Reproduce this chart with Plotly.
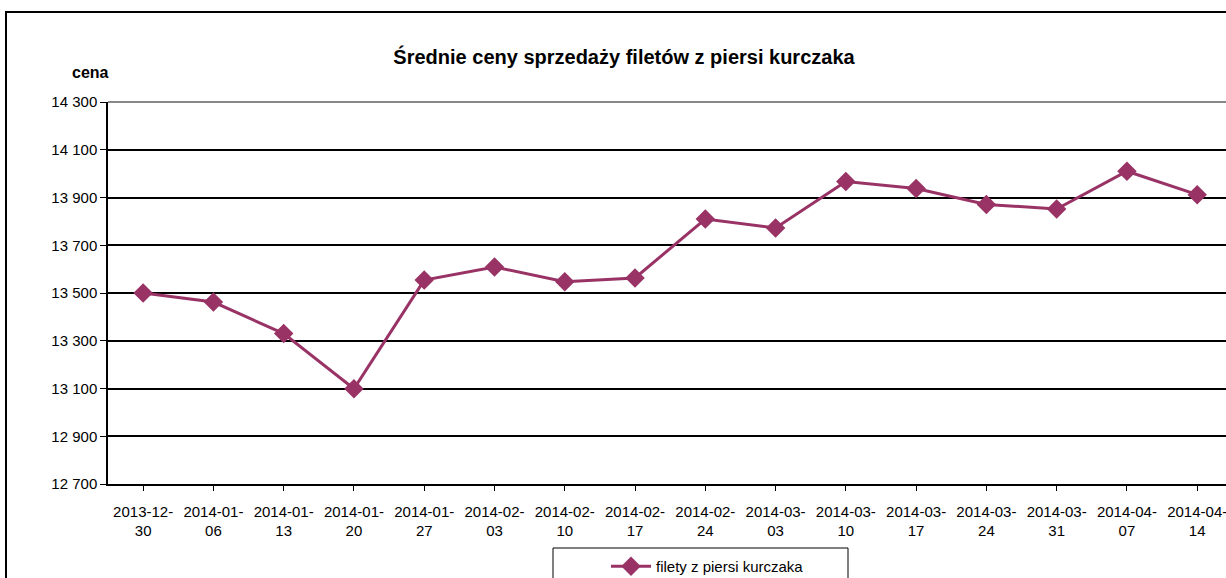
import plotly.graph_objects as go

categories = ["2013-12-<br>30", "2014-01-<br>06", "2014-01-<br>13", "2014-01-<br>20",
              "2014-01-<br>27", "2014-02-<br>03", "2014-02-<br>10", "2014-02-<br>17",
              "2014-02-<br>24", "2014-03-<br>03", "2014-03-<br>10", "2014-03-<br>17",
              "2014-03-<br>24", "2014-03-<br>31", "2014-04-<br>07", "2014-04-<br>14"]
prices = [13500, 13462, 13330, 13099, 13554, 13609, 13547, 13563,
          13810, 13772, 13967, 13938, 13871, 13852, 14010, 13912]
y_ticks = [12700, 12900, 13100, 13300, 13500, 13700, 13900, 14100, 14300]

color = "#993366"
font = "Liberation Sans, Arial, sans-serif"

fig = go.Figure()
fig.add_trace(go.Scatter(
    x=list(range(len(categories))), y=prices, mode="lines+markers",
    name="filety z piersi kurczaka",
    line=dict(color=color, width=3),
    marker=dict(symbol="diamond", size=15, color=color),
))

L, T, R, B = 108, 102, 0, 94
W, H = 1226, 578
pw, ph = W - L - R, H - T - B

def px_x(x):
    return (x - L) / pw

def px_y(y):
    return 1 - (y - T) / ph

fig.update_layout(
    width=W, height=H,
    margin=dict(l=L, r=R, t=T, b=B, autoexpand=False),
    paper_bgcolor="white", plot_bgcolor="white",
    separators=", ",
    font=dict(family=font, color="black", size=15),
    title=dict(text="<b>Średnie ceny sprzedaży filetów z piersi kurczaka</b>",
               x=px_x(624), xref="paper", y=1 - 57 / H, yanchor="middle",
               font=dict(size=20, family=font)),
    showlegend=True,
    legend=dict(x=px_x(606), xanchor="left", y=px_y(550), yanchor="top",
                orientation="h", borderwidth=0,
                bgcolor="rgba(0,0,0,0)", font=dict(size=15),
                itemwidth=40),
    xaxis=dict(
        tickmode="array", tickvals=list(range(len(categories))), ticktext=categories,
        range=[-0.5, 15.41], showgrid=False, showline=True, linecolor="black",
        linewidth=1.5, ticks="outside", ticklen=5, tickcolor="black",
        tickson="boundaries", tickfont=dict(size=15), zeroline=False,
        automargin=False, ticklabeloverflow="allow", ticklabelstandoff=8,
    ),
    yaxis=dict(
        range=[12700, 14300], tickvals=y_ticks, tickformat=",d",
        showgrid=True, gridcolor="black", gridwidth=1.5,
        showline=True, linecolor="black", linewidth=1.5,
        ticks="outside", ticklen=6, tickcolor="black",
        tickfont=dict(size=15), zeroline=False, automargin=False,
    ),
    annotations=[dict(text="<b>cena</b>", xref="paper", yref="paper",
                      x=px_x(90), y=px_y(72), xanchor="center", yanchor="middle",
                      showarrow=False, font=dict(size=16, family=font))],
    shapes=[
        dict(type="rect", xref="paper", yref="paper",
             x0=px_x(6), y0=px_y(600), x1=px_x(1240), y1=px_y(12),
             line=dict(color="black", width=2), layer="below"),
        dict(type="rect", xref="paper", yref="paper",
             x0=px_x(553), y0=px_y(600), x1=px_x(848), y1=px_y(548),
             line=dict(color="black", width=1), layer="below"),
        dict(type="line", xref="paper", yref="paper", x0=0, x1=1.01,
             y0=1, y1=1, line=dict(color="#888888", width=2)),
    ],
)

fig.write_html("out.html",
               config={"displayModeBar": False},
               post_script="document.body.style.margin='0';document.body.style.overflow='hidden';")
